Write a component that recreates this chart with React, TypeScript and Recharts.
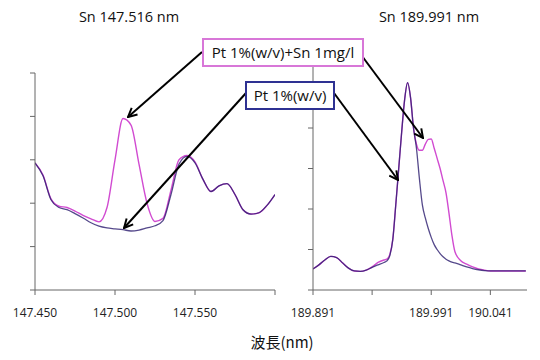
import { LineChart, Line, XAxis, YAxis } from 'recharts';

// Sn 147.516 nm window
const LEFT_WL = [
  147.45, 147.455, 147.46, 147.465, 147.47, 147.475, 147.48, 147.485, 147.49, 147.495,
  147.5, 147.505, 147.51, 147.515, 147.52, 147.525, 147.53, 147.535, 147.54, 147.545,
  147.55, 147.555, 147.56, 147.565, 147.57, 147.575, 147.58, 147.585, 147.59, 147.595, 147.6,
];
const LEFT_PT_SN = [
  2.93, 2.65, 2.1, 1.93, 1.9, 1.82, 1.72, 1.64, 1.57, 1.9,
  3.0, 3.95, 3.8, 2.9, 2.0, 1.58, 1.65, 2.3, 3.0, 3.1,
  2.95, 2.55, 2.27, 2.4, 2.45, 2.2, 1.85, 1.75, 1.78, 1.95, 2.2,
];
const LEFT_PT = [
  2.93, 2.63, 2.08, 1.9, 1.85, 1.76, 1.66, 1.55, 1.47, 1.43,
  1.41, 1.39, 1.36, 1.38, 1.43, 1.48, 1.6, 2.2, 2.9, 3.08,
  2.93, 2.55, 2.27, 2.4, 2.45, 2.2, 1.85, 1.75, 1.78, 1.95, 2.2,
];
const LEFT_TICKS = [147.45, 147.5, 147.55, 147.6];
const LEFT_LABELED = [147.45, 147.5, 147.55];

// Sn 189.991 nm window
const RIGHT_WL = [
  189.891, 189.896, 189.901, 189.906, 189.911, 189.916, 189.921, 189.926, 189.931, 189.936,
  189.941, 189.946, 189.951, 189.9535, 189.956, 189.9585, 189.961, 189.9635, 189.966, 189.9685,
  189.971, 189.9735, 189.976, 189.9785, 189.981, 189.9835, 189.986, 189.9885, 189.991, 189.9935,
  189.996, 189.9985, 190.001, 190.0035, 190.006, 190.0085, 190.011, 190.016, 190.021, 190.026,
  190.031, 190.036, 190.041, 190.051, 190.061, 190.071,
];
const RIGHT_PT_SN = [
  0.52, 0.62, 0.74, 0.83, 0.8, 0.67, 0.54, 0.47, 0.46, 0.49,
  0.57, 0.68, 0.74, 0.76, 0.88, 1.25, 2.1, 3.0, 3.9, 4.7,
  5.12, 4.75, 4.0, 3.6, 3.45, 3.45, 3.6, 3.72, 3.73, 3.5,
  3.25, 3.0, 2.7, 2.4, 1.9, 1.35, 0.95, 0.72, 0.64, 0.57,
  0.52, 0.49, 0.47, 0.47, 0.47, 0.47,
];
const RIGHT_PT = [
  0.52, 0.62, 0.74, 0.83, 0.8, 0.67, 0.54, 0.47, 0.46, 0.49,
  0.56, 0.62, 0.68, 0.72, 0.85, 1.25, 2.1, 3.0, 3.9, 4.7,
  5.12, 4.75, 4.0, 3.5, 2.75, 2.1, 1.78, 1.52, 1.3, 1.12,
  1.0, 0.9, 0.82, 0.76, 0.72, 0.69, 0.67, 0.62, 0.57, 0.53,
  0.5, 0.48, 0.47, 0.47, 0.47, 0.47,
];
const RIGHT_TICKS = [189.891, 189.941, 189.991, 190.041];
const RIGHT_LABELED = [189.891, 189.991, 190.041];

const PINK = '#d14bd1';
const NAVY = '#2a1c6e';
const AXIS = '#666';
const FONT = '"Open Sans", sans-serif';

const leftRows = LEFT_WL.map((w, i) => ({ w, ptSn: LEFT_PT_SN[i], pt: LEFT_PT[i] }));
const rightRows = RIGHT_WL.map((w, i) => ({ w, ptSn: RIGHT_PT_SN[i], pt: RIGHT_PT[i] }));

function Panel({ rows, width, margin, domain, ticks, labeled, yMax }: any) {
  const yTicks = Array.from({ length: yMax + 1 }, (_, i) => i);
  return (
    <LineChart width={width} height={330} data={rows} margin={margin}>
      <XAxis
        dataKey="w"
        type="number"
        domain={domain}
        ticks={ticks}
        allowDataOverflow
        stroke={AXIS}
        tickSize={5}
        tickMargin={13}
        height={30}
        tick={{ fill: '#222', fontSize: 12, fontFamily: FONT }}
        tickFormatter={(v: number) => (labeled.some((l: number) => Math.abs(l - v) < 1e-6) ? v.toFixed(3) : '')}
      />
      <YAxis
        type="number"
        domain={[0, yMax]}
        ticks={yTicks}
        width={margin.yw}
        stroke={AXIS}
        tickSize={5}
        tickFormatter={() => ''}
      />
      <Line type="monotone" dataKey="ptSn" stroke={PINK} strokeWidth={1.4} dot={false} isAnimationActive={false} />
      <Line type="monotone" dataKey="pt" stroke={NAVY} strokeWidth={1.3} strokeOpacity={0.8} dot={false} isAnimationActive={false} />
    </LineChart>
  );
}

export default function App() {
  return (
    <div style={{ position: 'absolute', left: 0, top: 0, width: 540, height: 360, background: '#fff', fontFamily: FONT }}>
      <div style={{ position: 'absolute', left: 0, top: 0 }}>
        <Panel
          rows={leftRows}
          width={290}
          margin={{ top: 73, right: 15, left: 0, bottom: 10, yw: 35 }}
          domain={[147.45, 147.6]}
          ticks={LEFT_TICKS}
          labeled={LEFT_LABELED}
          yMax={5}
        />
      </div>
      <div style={{ position: 'absolute', left: 280, top: 0 }}>
        <Panel
          rows={rightRows}
          width={260}
          margin={{ top: 47, right: 13, left: 0, bottom: 10, yw: 33 }}
          domain={[189.891, 190.072]}
          ticks={RIGHT_TICKS}
          labeled={RIGHT_LABELED}
          yMax={6}
        />
      </div>
      <svg width={540} height={360} style={{ position: 'absolute', left: 0, top: 0, pointerEvents: 'none' }}>
        <defs>
          <marker id="arr" viewBox="0 0 10 10" refX="9" refY="5" markerWidth="11" markerHeight="11" markerUnits="userSpaceOnUse" orient="auto">
            <path d="M1,1 L9,5 L1,9" fill="none" stroke="#000" strokeWidth="1.8" />
          </marker>
        </defs>
        <text x={129} y={22} textAnchor="middle" fontSize={14.5} fontFamily={FONT} fill="#111">Sn 147.516 nm</text>
        <text x={429} y={22} textAnchor="middle" fontSize={14.5} fontFamily={FONT} fill="#111">Sn 189.991 nm</text>
        <line x1={202} y1={52} x2={128} y2={117} stroke="#000" strokeWidth={2} markerEnd="url(#arr)" />
        <line x1={362} y1={56} x2={423} y2={138} stroke="#000" strokeWidth={2} markerEnd="url(#arr)" />
        <line x1={246} y1={93} x2={124} y2={228} stroke="#000" strokeWidth={2} markerEnd="url(#arr)" />
        <line x1={334} y1={93} x2={398} y2={180} stroke="#000" strokeWidth={2} markerEnd="url(#arr)" />
        <rect x={203} y={39} width={160} height={27} fill="#fff" stroke="#d877d8" strokeWidth={2} />
        <text x={283} y={58} textAnchor="middle" fontSize={15} fontFamily={FONT} fill="#111">Pt 1%(w/v)+Sn 1mg/l</text>
        <rect x={246} y={82} width={88} height={27} fill="#fff" stroke="#2e3192" strokeWidth={2} />
        <text x={290} y={101} textAnchor="middle" fontSize={15} fontFamily={FONT} fill="#111">Pt 1%(w/v)</text>
        <text x={282} y={348} textAnchor="middle" fontSize={15} fontFamily={'"Noto Sans CJK JP", "Open Sans", sans-serif'} fill="#111">波長(nm)</text>
      </svg>
    </div>
  );
}
